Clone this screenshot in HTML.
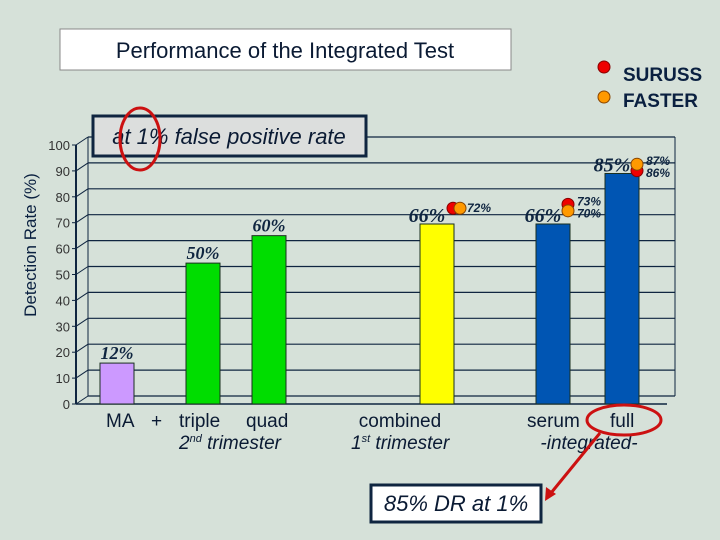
<!DOCTYPE html>
<html><head><meta charset="utf-8"><style>
body{margin:0;background:#d6e1d9;}
svg{display:block;font-family:"Liberation Sans",sans-serif;}
</style></head><body>
<svg id="c" width="720" height="540">
<rect width="720" height="540" fill="#d6e1d9"/>
<g id="grid"></g>
<g id="bars"></g>
<g id="dots"></g>
<rect x="60" y="29" width="451" height="41" fill="#fff" stroke="#888"/>
<text x="285" y="58" font-size="22" text-anchor="middle" fill="#0a1a33">Performance of the Integrated Test</text>
<rect x="93" y="116" width="273" height="40" fill="#dcdedd" stroke="#0f2540" stroke-width="3"/>
<text x="229" y="144" font-size="22" font-style="italic" text-anchor="middle" fill="#0a1a33">at 1% false positive rate</text>
<ellipse cx="140" cy="139" rx="20" ry="31" fill="none" stroke="#cc1111" stroke-width="3"/>
<circle cx="604" cy="67" r="6" fill="#e00" stroke="#800"/>
<text x="623" y="81" font-size="19" font-weight="bold" fill="#0a2040">SURUSS</text>
<circle cx="604" cy="97" r="6" fill="#f90" stroke="#840"/>
<text x="623" y="107" font-size="19" font-weight="bold" fill="#0a2040">FASTER</text>
<text transform="translate(36,245) rotate(-90)" font-size="17" text-anchor="middle" fill="#0a2040">Detection Rate (%)</text>
<g font-size="19" fill="#0a1a33">
<text x="106" y="427">MA</text>
<text x="151" y="427">+</text>
<text x="179" y="427">triple</text>
<text x="246" y="427">quad</text>
<text x="179" y="449" font-style="italic">2<tspan font-size="11" dy="-7">nd</tspan><tspan dy="7"> trimester</tspan></text>
<text x="400" y="427" text-anchor="middle">combined</text>
<text x="351" y="449" font-style="italic">1<tspan font-size="11" dy="-7">st</tspan><tspan dy="7"> trimester</tspan></text>
<text x="527" y="427">serum</text>
<text x="610" y="427">full</text>
<text x="589" y="449" font-style="italic" text-anchor="middle">-integrated-</text>
</g>
<ellipse cx="624" cy="420" rx="37" ry="15" fill="none" stroke="#cc1111" stroke-width="3"/>
<line x1="600" y1="433" x2="551" y2="493" stroke="#cc1111" stroke-width="3"/>
<polygon points="545,501 546,487 556,494" fill="#cc1111"/>
<rect x="371" y="485" width="170" height="37" fill="#fff" stroke="#0f2540" stroke-width="3"/>
<text x="456" y="511" font-size="22" font-style="italic" text-anchor="middle" fill="#0a1a33">85% DR at 1%</text>
</svg>
<script>
const categories=["MA","triple","quad","combined","serum","full"];
const barValues=[15.8,54.4,65,69.5,69.5,89];
const barLabels=["12%","50%","60%","66%","66%","85%"];
const barColors=["#cc99ff","#00dd00","#00dd00","#ffff00","#0055b3","#0055b3"];
const ticks=[0,10,20,30,40,50,60,70,80,90,100];
const surussValues=[null,null,null,72.5,74,87];
const fasterValues=[null,null,null,72.5,71.5,89.5];
const surussLabels=[null,null,null,"72%","73%","86%"];
const fasterLabels=[null,null,null,"","70%","87%"];
const NS="http://www.w3.org/2000/svg";
const y0=404,yTop=145;
function y(v){return y0-(y0-yTop)*v/100;}
const barX=[100,186,252,420,536,605];const bw=34;
function mk(t,a,p){const e=document.createElementNS(NS,t);for(const k in a)e.setAttribute(k,a[k]);p.appendChild(e);return e;}
const g=document.getElementById('grid');
ticks.forEach(t=>{
 const l=mk('line',{x1:88,x2:675,y1:y(t)-8,y2:y(t)-8,stroke:'#0f2540','stroke-width':1.2},g);
 
 const d=mk('line',{x1:76,x2:88,y1:y(t),y2:y(t)-8,stroke:'#0f2540'},g);
 
 const tk=mk('line',{x1:72,x2:77,y1:y(t),y2:y(t),stroke:'#0f2540'},g);
 
 const tx=mk('text',{x:70,y:y(t)+5,'font-size':13,'text-anchor':'end',fill:'#333'},g);tx.textContent=t;
 
});
let a=mk('line',{x1:76,x2:76,y1:y(100),y2:y(0),stroke:'#0f2540','stroke-width':2},g);

a=mk('line',{x1:88,x2:88,y1:y(100)-8,y2:y(0)-8,stroke:'#0f2540'},g);

a=mk('line',{x1:675,x2:675,y1:y(100)-8,y2:y(0)-8,stroke:'#0f2540'},g);

a=mk('line',{x1:76,x2:667,y1:y(0),y2:y(0),stroke:'#0f2540','stroke-width':1.5},g);

const b=document.getElementById('bars');
categories.forEach((c,i)=>{
 const r=mk('rect',{x:barX[i],y:y(barValues[i]),width:bw,height:y0-y(barValues[i]),fill:barColors[i],stroke:'#1a3020'},b);
 
 const tx=mk('text',{x:barX[i]+bw/2+(i>=3?-10:0),y:y(barValues[i])-(i>=3?2:4),'font-size':i>=3?20:18,'font-weight':'bold','font-style':'italic','font-family':'Liberation Serif, serif','text-anchor':'middle',fill:'#0f2540'},b);
 tx.textContent=barLabels[i];
 
});
const d=document.getElementById('dots');
categories.forEach((c,i)=>{
 if(surussValues[i]==null)return;
 const cx=barX[i]+bw+(i==3?-1:-2);
 const s=mk('circle',{cx:cx,cy:y(surussValues[i])-8,r:6,fill:'#e00',stroke:'#800'},d);
 
 const f=mk('circle',{cx:cx+(i==3?7:0),cy:y(fasterValues[i])-8,r:6,fill:'#f90',stroke:'#840'},d);
 
 const lx=cx+(i==3?14:9);
 if(i==3){const t=mk('text',{x:lx,y:y(surussValues[i])-4,'font-size':12,'font-weight':'bold','font-style':'italic',fill:'#0f2540'},d);t.textContent=surussLabels[i];
  }
 else{const up=Math.max(surussValues[i],fasterValues[i]);
  const t1=mk('text',{x:lx,y:y(up)-7,'font-size':12,'font-weight':'bold','font-style':'italic',fill:'#0f2540'},d);
  t1.textContent=surussValues[i]>=fasterValues[i]?surussLabels[i]:fasterLabels[i];
  
  const t2=mk('text',{x:lx,y:y(up)+5,'font-size':12,'font-weight':'bold','font-style':'italic',fill:'#0f2540'},d);
  t2.textContent=surussValues[i]>=fasterValues[i]?fasterLabels[i]:surussLabels[i];
  }
});
</script>
</body></html>
